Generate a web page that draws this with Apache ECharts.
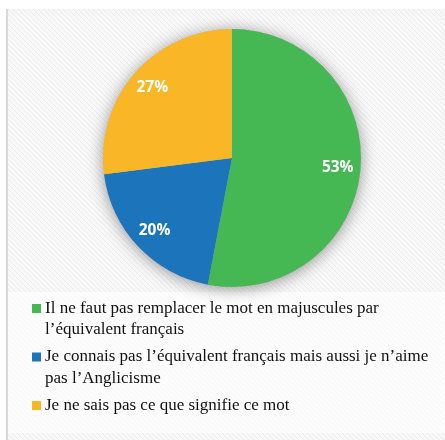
<!DOCTYPE html>
<html lang="fr">
<head>
    <meta charset="UTF-8">
    <title>Anglicisme</title>
    <script src="https://cdn.jsdelivr.net/npm/echarts@6/dist/echarts.min.js"></script>
    <style>
        html, body {
            margin: 0;
            padding: 0;
            background: #fff;
        }
        #wrap {
            position: relative;
            width: 445px;
            height: 440px;
            overflow: hidden;
        }
        #edge {
            position: absolute;
            left: 6px;
            top: 9px;
            width: 2px;
            height: 431px;
            background: #d9d9d9;
        }
        #box {
            position: absolute;
            left: 8px;
            top: 9px;
            width: 437px;
            height: 431px;
        }
    </style>
</head>
<body>
    <div id="wrap">
        <div id="edge"></div>
        <div id="box"></div>
    </div>
    <script>
        // données
        const categories = [
            'Il ne faut pas remplacer le mot en majuscules par l’équivalent français',
            'Je connais pas l’équivalent français mais aussi je n’aime pas l’Anglicisme',
            'Je ne sais pas ce que signifie ce mot'
        ]
        const values = [53, 20, 27]
        // lignes de la légende (retour à la ligne comme dans l'image)
        const legendLines = [
            ['Il ne faut pas remplacer le mot en majuscules par', 'l’équivalent français'],
            ['Je connais pas l’équivalent français mais aussi je n’aime', 'pas l’Anglicisme'],
            ['Je ne sais pas ce que signifie ce mot']
        ]
        const colors = ['#46b853', '#1c75bb', '#f9b626']

        // fond hachuré
        const tile = document.createElement('canvas')
        tile.width = 5
        tile.height = 5
        const ctx = tile.getContext('2d')
        ctx.fillStyle = '#f8f8f8'
        ctx.fillRect(0, 0, 5, 5)
        ctx.fillStyle = '#ebebeb'
        for (let i = 0; i < 5; i++) {
            ctx.fillRect(i, i, 1, 1)
        }

        const center = [224, 149]
        const R = 129

        const rich = {
            ind: { width: 13 },
            gap: { width: 4 },
            t: { fontFamily: 'Liberation Serif', fontSize: 17, color: '#111', lineHeight: 21.5 }
        }
        colors.forEach((c, i) => {
            rich['m' + i] = { width: 9, height: 9, backgroundColor: c }
        })

        const pieData = categories.map((name, i) => ({ name: name, value: values[i] }))

        var myChart = echarts.init(document.getElementById('box'))
        var option = {
            backgroundColor: { image: tile, repeat: 'repeat' },
            color: colors,
            animation: false,
            graphic: [{
                type: 'rect',
                shape: { x: 0, y: 283, width: 437, height: 141 },
                style: { fill: 'rgba(255,255,255,0.65)' },
                z: -1,
                silent: true
            }],
            legend: {
                orient: 'vertical',
                left: 14,
                top: 286,
                icon: 'none',
                itemWidth: 0,
                itemHeight: 0,
                itemGap: 10,
                selectedMode: false,
                data: categories,
                textStyle: { rich: rich },
                formatter: function (name) {
                    const i = categories.indexOf(name)
                    return legendLines[i].map((line, k) =>
                        (k === 0 ? '{m' + i + '| }{gap|}' : '{ind|}') + '{t|' + line + '}'
                    ).join('\n')
                }
            },
            series: [{
                // ombre portée
                type: 'pie',
                silent: true,
                center: center,
                radius: [0, R],
                label: { show: false },
                itemStyle: {
                    color: '#bdbdbd',
                    shadowBlur: 16,
                    shadowOffsetY: 2,
                    shadowColor: 'rgba(0,0,0,0.4)'
                },
                data: [{ name: 'ombre', value: 1 }]
            }, {
                name: 'réponses',
                type: 'pie',
                center: center,
                radius: [0, R],
                startAngle: 90,
                clockwise: true,
                label: { show: false },
                labelLine: { show: false },
                data: pieData
            }, {
                // calque transparent pour placer les étiquettes à 80% du rayon
                type: 'pie',
                silent: true,
                center: center,
                radius: [0, R * 1.6],
                startAngle: 90,
                clockwise: true,
                itemStyle: { color: 'rgba(0,0,0,0)' },
                label: {
                    show: true,
                    position: 'inside',
                    formatter: '{c}%',
                    color: '#fff',
                    fontFamily: 'Open Sans',
                    fontWeight: 'bold',
                    fontSize: 15.5
                },
                labelLine: { show: false },
                data: pieData
            }]
        }
        myChart.setOption(option)
    </script>
</body>
</html>
